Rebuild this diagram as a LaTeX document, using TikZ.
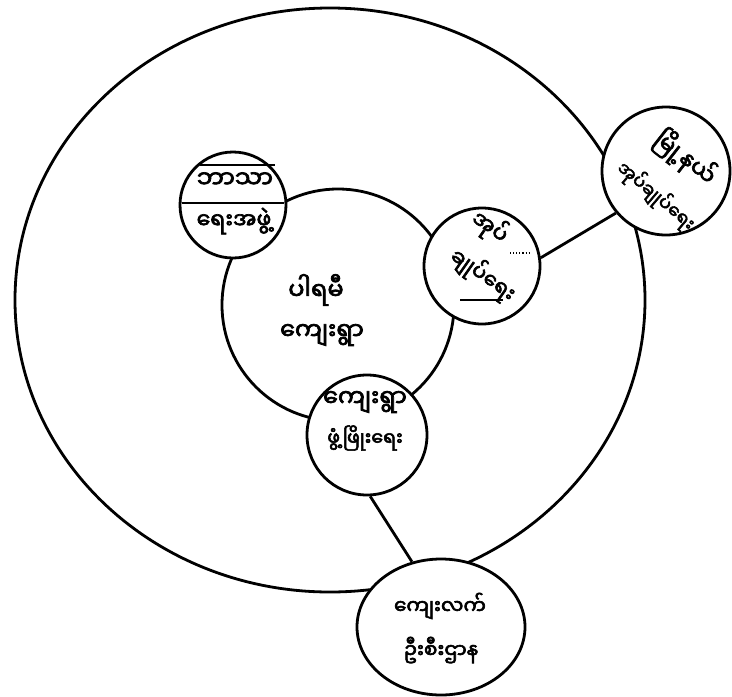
\documentclass[tikz,border=0pt]{standalone}
\usepackage{fontspec}
\usetikzlibrary{shapes.geometric}
\newfontfamily\mya[Script=Myanmar,FakeBold=3]{Noto Sans Myanmar UI}
\begin{document}
\begin{tikzpicture}[x=1pt,y=-1pt,
  ring/.style={draw=black, line width=2.8pt, circle, inner sep=0pt, fill=white},
  thin/.style={draw=black, line width=1.1pt},
  conn/.style={draw=black, line width=2.8pt},
  txt/.style={font=\mya\fontsize{#1}{#1}\selectfont, inner sep=0pt},
  txt/.default=21]
\useasboundingbox[fill=white] (0,0) rectangle (732,697);
% outer region
\node[draw=black, line width=2.8pt, ellipse, inner sep=0pt, minimum width=630pt, minimum height=584pt] (outer) at (330,300) {};
% village
\node[ring, minimum size=232pt] (village) at (338,305) {};
% satellites
\node[ring, minimum size=106pt] (rel) at (233,205) {};
\node[ring, minimum size=116pt] (adm) at (482,266) {};
\node[ring, minimum size=128pt] (town) at (666,171) {};
\node[ring, minimum size=120pt] (dev) at (367,435) {};
\node[draw=black, line width=2.8pt, ellipse, inner sep=0pt, fill=white, minimum width=168pt, minimum height=136pt] (rural) at (441,627) {};
% connectors
\draw[conn] (adm.8) -- (town.220);
\draw[conn] (dev.273) -- (rural.114);
% ruled lines in the religious circle
\coordinate (r1a) at (200,165); \coordinate (r1b) at (275,165);
\coordinate (r2a) at (182,203); \coordinate (r2b) at (284,203);
\draw[thin] (r1a) -- (r1b);
\draw[thin] (r2a) -- (r2b);
\coordinate (a1a) at (460,300); \coordinate (a1b) at (503,300);
\draw[thin] (a1a) -- (a1b);
\coordinate (a2a) at (510,253); \coordinate (a2b) at (530,253);
\draw[thin, dotted] (a2a) -- (a2b);
% labels
\node[txt=24] (v1) at (316,290) {ပါရမီ};
\node[txt=24] (v2) at (322,335) {ကျေးရွာ};
\node[txt=24] (rl1) at (235,180) {ဘာသာ};
\node[txt=22] (rl2) at (234,221) {ရေးအဖွဲ့};
\node[txt=22, rotate=-35] (ad1) at (490,227) {အုပ်};
\node[txt=21, rotate=-35] (ad2) at (483,275) {ချုပ်ရေး};
\node[txt=23, rotate=-38] (tw1) at (685,158) {မြို့နယ်};
\node[txt=18, rotate=-40] (tw2) at (656,196) {အုပ်ချုပ်ရေး};
\node[txt=24] (dv1) at (365,402) {ကျေးရွာ};
\node[txt=19] (dv2) at (365,438) {ဖွံ့ဖြိုးရေး};
\node[txt=20] (ru1) at (440,606) {ကျေးလက်};
\node[txt=20] (ru2) at (441,650) {ဦးစီးဌာန};
\end{tikzpicture}
\end{document}
